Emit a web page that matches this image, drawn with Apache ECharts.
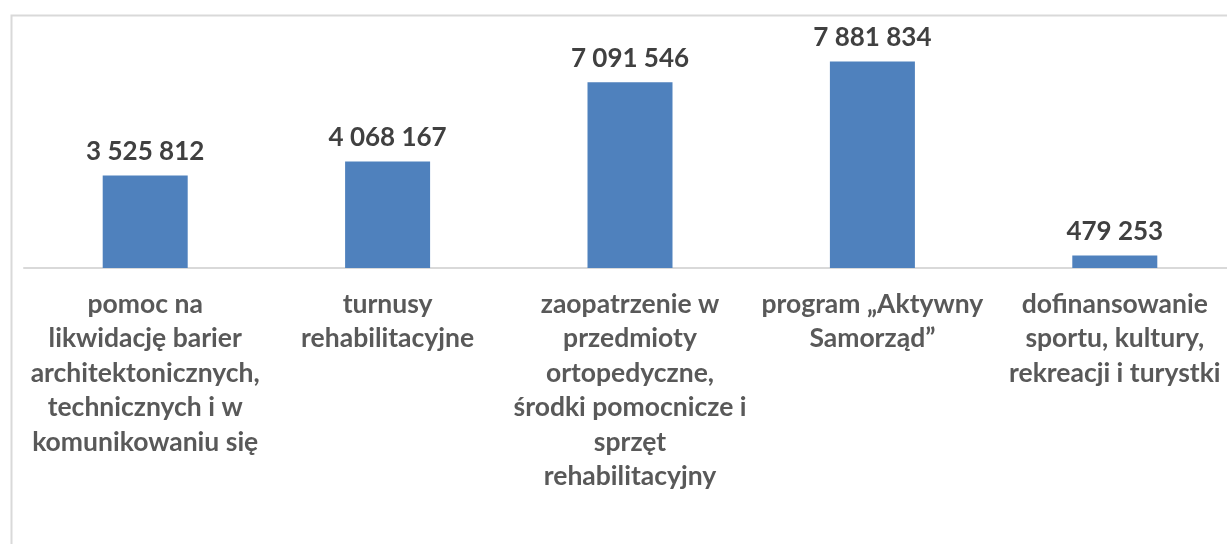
<!DOCTYPE html>
<html>
<head>
<meta charset="utf-8">
<script src="https://cdn.jsdelivr.net/npm/echarts@6/dist/echarts.min.js"></script>
<style>
  html, body { margin: 0; padding: 0; background: #fff; }
  #chart { width: 1227px; height: 544px; }
</style>
</head>
<body>
<div id="chart"></div>
<script>
// kategorie (podzielone na linie jak w oryginale)
var categories = [
  'pomoc na\nlikwidację barier\narchitektonicznych,\ntechnicznych i w\nkomunikowaniu się',
  'turnusy\nrehabilitacyjne',
  'zaopatrzenie w\nprzedmioty\nortopedyczne,\nśrodki pomocnicze i\nsprzęt\nrehabilitacyjny',
  'program „Aktywny\nSamorząd”',
  'dofinansowanie\nsportu, kultury,\nrekreacji i turystki'
]
var values = [3525812, 4068167, 7091546, 7881834, 479253]

// 1234567 -> "1 234 567"
function fmt(v) {
  return String(v).replace(/\B(?=(\d{3})+(?!\d))/g, ' ')
}

var chart = echarts.init(document.getElementById('chart'))
chart.setOption({
  animation: false,
  backgroundColor: '#fff',
  graphic: [{
    type: 'rect',
    left: 9,
    top: 13,
    shape: { width: 1300, height: 600 },
    style: { fill: 'none', stroke: '#d9d9d9', lineWidth: 2 },
    silent: true
  }],
  grid: {
    left: 24,
    width: 1212,
    top: 6,
    bottom: 276,
    outerBoundsMode: 'none'
  },
  xAxis: {
    type: 'category',
    data: categories,
    axisLine: { lineStyle: { color: '#d9d9d9', width: 2 } },
    axisTick: { show: false },
    axisLabel: {
      interval: 0,
      margin: 19,
      color: '#595959',
      fontFamily: 'Lato',
      fontWeight: 'bold',
      fontSize: 26.5,
      lineHeight: 34.5,
      align: 'center'
    }
  },
  yAxis: {
    type: 'value',
    min: 0,
    max: 10000000,
    show: false,
    splitLine: { show: false }
  },
  series: [{
    type: 'bar',
    data: values,
    barWidth: 85,
    itemStyle: { color: '#4f81bd' },
    label: {
      show: true,
      position: 'top',
      distance: 11,
      color: '#404040',
      fontFamily: 'Lato',
      fontWeight: 'bold',
      fontSize: 26,
      formatter: function (p) { return fmt(p.value) }
    }
  }]
})
</script>
</body>
</html>
